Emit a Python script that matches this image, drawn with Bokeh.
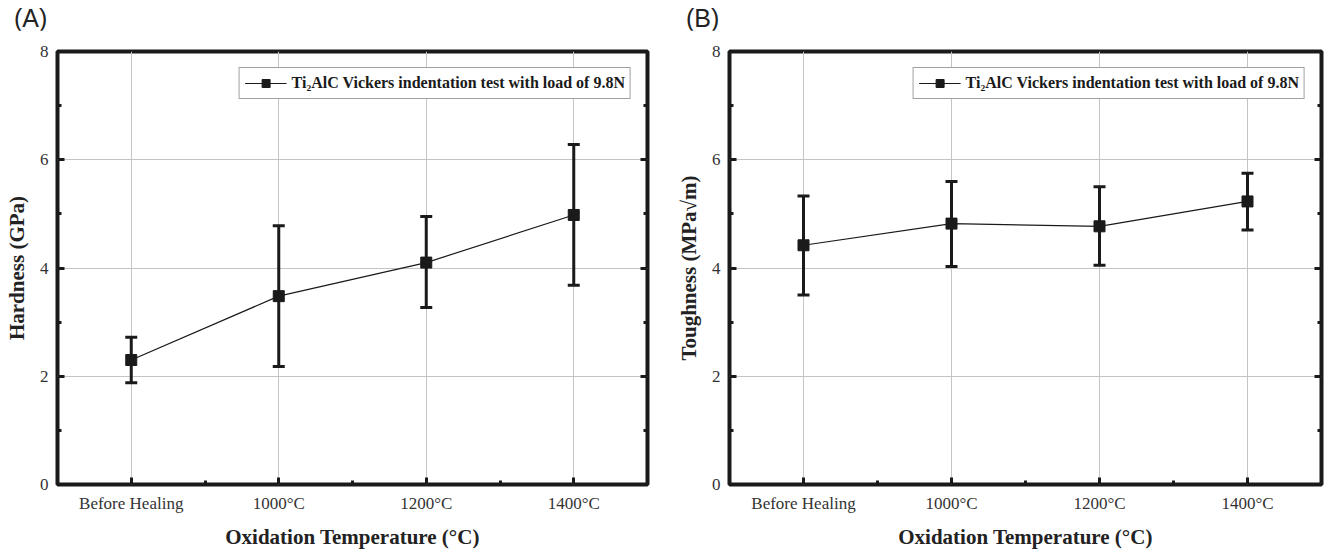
from bokeh.plotting import figure
from bokeh.models import (ColumnDataSource, Whisker, TeeHead, FixedTicker, LinearAxis,
                          Range1d, Legend, LegendItem, Div)
from bokeh.layouts import row, column
from bokeh.embed import file_html
from bokeh.resources import INLINE

categories = ["Before Healing", "1000°C", "1200°C", "1400°C"]
positions = [1, 2, 3, 4]
hardness = [2.30, 3.48, 4.10, 4.98]
hardness_upper = [2.72, 4.78, 4.95, 6.28]
hardness_lower = [1.88, 2.18, 3.27, 3.68]
toughness = [4.42, 4.82, 4.77, 5.23]
toughness_upper = [5.33, 5.60, 5.50, 5.75]
toughness_lower = [3.50, 4.03, 4.05, 4.70]
y_ticks = [0, 2, 4, 6, 8]
y_minor = [1, 3, 5, 7]
x_minor = [1.5, 2.5, 3.5]
legend_label = "Ti\u2082AlC Vickers indentation test with load of 9.8N"

SERIF = "Liberation Serif"
DARK = "#1a1a1a"
TAG_H = 30


def make_tag(tag, width):
    html = ('<div style="font-family:\'Liberation Sans\';font-size:25px;color:#222222;'
            'margin:0;padding:4px 0 0 14px;line-height:28px;white-space:nowrap;">'
            + tag + '</div>')
    return Div(text=html, width=width, height=TAG_H, margin=0)


def make_panel(ylabel, yvals, upper, lower, width, border_right):
    p = figure(width=width, height=551 - TAG_H, output_backend="svg", toolbar_location=None,
               x_range=Range1d(0.5, 4.5), y_range=Range1d(0, 8),
               min_border_left=57, min_border_right=border_right,
               min_border_top=51 - TAG_H, min_border_bottom=66, margin=0)
    p.title = None
    p.background_fill_color = "white"
    p.border_fill_color = "white"
    p.outline_line_color = DARK
    p.outline_line_width = 4
    p.outline_line_alpha = 1

    src = ColumnDataSource(dict(x=positions, y=yvals, up=upper, lo=lower))
    w = Whisker(source=src, base="x", upper="up", lower="lo", dimension="height",
                line_color=DARK, line_width=3,
                upper_head=TeeHead(size=12, line_color=DARK, line_width=3),
                lower_head=TeeHead(size=12, line_color=DARK, line_width=3))
    p.add_layout(w)
    ln = p.line("x", "y", source=src, line_color=DARK, line_width=1.2)
    sc = p.scatter("x", "y", source=src, marker="square", size=11,
                   fill_color=DARK, line_color=DARK)

    for ax in p.xaxis + p.yaxis:
        ax.axis_line_color = None
        ax.major_tick_in = 7
        ax.major_tick_out = 0
        ax.minor_tick_in = 4
        ax.minor_tick_out = 0
        ax.major_tick_line_width = 3
        ax.minor_tick_line_width = 3
        ax.major_tick_line_color = DARK
        ax.minor_tick_line_color = DARK
        ax.major_label_text_font = SERIF
        ax.major_label_text_font_size = "17px"
        ax.major_label_text_color = "#333333"
        ax.axis_label_text_font = SERIF
        ax.axis_label_text_font_style = "bold"
        ax.axis_label_text_font_size = "21px"
        ax.axis_label_text_color = "#222222"

    p.xaxis.ticker = FixedTicker(ticks=positions, minor_ticks=x_minor)
    p.xaxis.major_label_overrides = {pos: c for pos, c in zip(positions, categories)}
    p.xaxis.axis_label = "Oxidation Temperature (\u00b0C)"
    p.xaxis.major_label_standoff = 9
    p.xaxis.axis_label_standoff = 9

    p.yaxis.ticker = FixedTicker(ticks=y_ticks, minor_ticks=y_minor)
    p.yaxis.axis_label = ylabel
    p.yaxis.major_label_standoff = 9
    p.yaxis.axis_label_standoff = 8

    rax = LinearAxis(ticker=FixedTicker(ticks=y_ticks, minor_ticks=y_minor),
                     major_label_overrides={v: "" for v in y_ticks},
                     major_label_text_font_size="1px",
                     axis_line_color=None,
                     major_tick_in=7, major_tick_out=0, minor_tick_in=4, minor_tick_out=0,
                     major_tick_line_width=3, minor_tick_line_width=3,
                     major_tick_line_color=DARK, minor_tick_line_color=DARK,
                     major_label_standoff=0, axis_label_standoff=0)
    p.add_layout(rax, "right")

    p.xgrid.ticker = FixedTicker(ticks=positions)
    p.ygrid.ticker = FixedTicker(ticks=y_ticks)
    p.grid.grid_line_color = "#c4c4c4"
    p.grid.grid_line_width = 1

    legend = Legend(items=[LegendItem(label=legend_label, renderers=[ln, sc])],
                    location="top_right", margin=16, padding=5,
                    glyph_width=42, glyph_height=20, label_standoff=5,
                    label_text_font=SERIF, label_text_font_style="bold",
                    label_text_font_size="16px", label_text_color="#1a1a1a",
                    border_line_color="#444444", border_line_width=1,
                    background_fill_color="white", background_fill_alpha=1)
    p.add_layout(legend, "center")
    return p


pa = make_panel("Hardness (GPa)", hardness, hardness_upper, hardness_lower, 672, 25)
pb = make_panel("Toughness (MPa\u221am)", toughness, toughness_upper, toughness_lower, 655, 6)

layout = column(
    row(make_tag("(A)", 672), make_tag("(B)", 655), spacing=0, margin=0),
    row(pa, pb, spacing=0, margin=0),
    spacing=0, margin=0,
)
open("out.html", "w").write(file_html(layout, INLINE))
